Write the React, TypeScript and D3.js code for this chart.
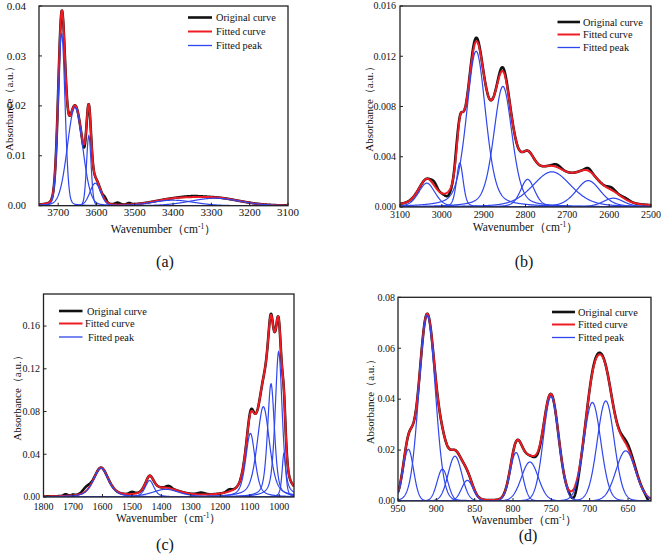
import React from "react";
import * as d3 from "d3";

const FONT = "'Liberation Serif', 'Times New Roman', Times, serif";
const BLACK = "#111111";
const RED = "#ee1c24";
const BLUE = "#2f45ee";

// ---------- Panel (a) ----------
const aXTicks = [3700, 3600, 3500, 3400, 3300, 3200, 3100];
const aYTicks = [0, 0.01, 0.02, 0.03, 0.04];
const aPeakCenters = [3691, 3656, 3620, 3603, 3400, 3290];
const aPeakHeights = [0.0345, 0.0197, 0.014, 0.0045, 0.0011, 0.0015];
const aPeakWidths = [21, 47, 14, 33, 130, 153];
const aOrigCenters = [3632, 3578, 3545, 3515, 3350];
const aOrigHeights = [-0.0006, 0.0005, 0.0004, 0.0003, 0.0002];
const aOrigWidths = [8, 10, 15, 12, 60];

// ---------- Panel (b) ----------
const bXTicks = [3100, 3000, 2900, 2800, 2700, 2600, 2500];
const bYTicks = [0, 0.004, 0.008, 0.012, 0.016];
const bPeakCenters = [3036, 2957, 2918, 2854, 2795, 2737, 2650, 2590];
const bPeakHeights = [0.0019, 0.0035, 0.0124, 0.0096, 0.0022, 0.0028, 0.0021, 0.0007];
const bPeakWidths = [47, 19, 54, 52, 40, 110, 70, 59];
const bOrigCenters = [3018, 2985, 2965, 2920, 2855, 2725, 2650, 2595, 2560];
const bOrigHeights = [0.0003, -0.0003, 0.0004, 0.0003, 0.0003, 0.0002, 0.0002, 0.0002, 0.0001];
const bOrigWidths = [15, 15, 10, 20, 20, 20, 15, 20, 20];

// ---------- Panel (c) ----------
const cXTicks = [1800, 1700, 1600, 1500, 1400, 1300, 1200, 1100, 1000];
const cYTicks = [0, 0.04, 0.08, 0.12, 0.16];
const cPeakCenters = [1605, 1440, 1385, 1098, 1054, 1028, 1002, 984];
const cPeakHeights = [0.027, 0.0155, 0.0072, 0.0596, 0.0845, 0.106, 0.136, 0.041];
const cPeakWidths = [60, 35, 110, 38, 50, 28, 28, 15];
const cOrigCenters = [1725, 1700, 1655, 1500, 1375, 1265, 1170, 1095, 1029];
const cOrigHeights = [0.0015, 0.0008, 0.004, 0.002, 0.002, 0.0018, 0.002, 0.002, 0.001];
const cOrigWidths = [15, 10, 30, 20, 20, 30, 20, 15, 8];

// ---------- Panel (d) ----------
const dXTicks = [950, 900, 850, 800, 750, 700, 650];
const dYTicks = [0, 0.02, 0.04, 0.06, 0.08];
const dPeakCenters = [936.5, 912, 892, 875.7, 859.6, 796, 778, 750.4, 696.5, 679, 653];
const dPeakHeights = [0.0203, 0.073, 0.0125, 0.0176, 0.0081, 0.019, 0.0153, 0.041, 0.0387, 0.0393, 0.0197];
const dPeakWidths = [16, 25, 16.5, 21, 17.5, 18, 26, 23.5, 26, 26, 30];
const dOrigCenters = [720, 690, 650, 621, 768];
const dOrigHeights = [-0.0035, 0.0007, 0.0012, -0.002, -0.0008];
const dOrigWidths = [10, 15, 20, 8, 10];

const legendLabels = ["Original curve", "Fitted curve", "Fitted peak"];

type Cfg = {
  id: string;
  label: string;
  xDomain: [number, number];
  yDomain: [number, number];
  left: number; right: number; top: number; bottom: number;
  xTicks: number[]; yTicks: number[]; yFmt: string;
  centers: number[]; heights: number[]; widths: number[];
  oc: number[]; oh: number[]; ow: number[];
  eta: number;
  tickFont: number;
  xLabelDy: number;
  yLabelRight: number;
  yTitleX: number;
  xTitleY: number;
  labelXY: [number, number];
  legend: { x1: number; x2: number; tx: number[]; ys: number[] };
};

const cfgs: Cfg[] = [
  {
    id: "a", label: "(a)", xDomain: [3750, 3100], yDomain: [0, 0.04],
    left: 39, right: 288, top: 6, bottom: 205.7,
    xTicks: aXTicks, yTicks: aYTicks, yFmt: ".2f",
    centers: aPeakCenters, heights: aPeakHeights, widths: aPeakWidths,
    oc: aOrigCenters, oh: aOrigHeights, ow: aOrigWidths, eta: 0.1,
    tickFont: 11, xLabelDy: 10.5, yLabelRight: 26, yTitleX: 13, xTitleY: 233,
    labelXY: [165, 267],
    legend: { x1: 188, x2: 212, tx: [216, 216, 216], ys: [17.5, 31.5, 45.5] },
  },
  {
    id: "b", label: "(b)", xDomain: [3100, 2500], yDomain: [0, 0.016],
    left: 400, right: 651, top: 6, bottom: 207,
    xTicks: bXTicks, yTicks: bYTicks, yFmt: ".3f",
    centers: bPeakCenters, heights: bPeakHeights, widths: bPeakWidths,
    oc: bOrigCenters, oh: bOrigHeights, ow: bOrigWidths, eta: 0.35,
    tickFont: 10, xLabelDy: 11, yLabelRight: 396, yTitleX: 373, xTitleY: 231,
    labelXY: [524, 267],
    legend: { x1: 557.5, x2: 580, tx: [583, 583, 583], ys: [22, 34.5, 47.5] },
  },
  {
    id: "c", label: "(c)", xDomain: [1800, 950], yDomain: [0, 0.19],
    left: 43.5, right: 294, top: 294, bottom: 497,
    xTicks: cXTicks, yTicks: cYTicks, yFmt: ".2f",
    centers: cPeakCenters, heights: cPeakHeights, widths: cPeakWidths,
    oc: cOrigCenters, oh: cOrigHeights, ow: cOrigWidths, eta: 0.5,
    tickFont: 10, xLabelDy: 12.5, yLabelRight: 40, yTitleX: 21, xTitleY: 522,
    labelXY: [165, 550],
    legend: { x1: 59, x2: 82.5, tx: [87, 85, 88], ys: [311, 323.5, 337] },
  },
  {
    id: "d", label: "(d)", xDomain: [950, 620], yDomain: [0, 0.08],
    left: 398, right: 651, top: 297.3, bottom: 501,
    xTicks: dXTicks, yTicks: dYTicks, yFmt: ".2f",
    centers: dPeakCenters, heights: dPeakHeights, widths: dPeakWidths,
    oc: dOrigCenters, oh: dOrigHeights, ow: dOrigWidths, eta: 0.05,
    tickFont: 10, xLabelDy: 11, yLabelRight: 395, yTitleX: 374, xTitleY: 524,
    labelXY: [528, 541],
    legend: { x1: 552, x2: 575, tx: [578, 578, 578], ys: [312, 324.5, 337.5] },
  },
];

function profile(v: number, c: number, h: number, w: number, eta: number) {
  const t = (v - c) / w;
  return h * ((1 - eta) * Math.exp(-4 * Math.LN2 * t * t) + eta / (1 + 4 * t * t));
}

function Panel({ cfg }: { cfg: Cfg }) {
  const x = d3.scaleLinear().domain(cfg.xDomain).range([cfg.left, cfg.right]);
  const y = d3.scaleLinear().domain(cfg.yDomain).range([cfg.bottom, cfg.top]);
  const n = 800;
  const grid = d3.range(n + 1).map((i) => cfg.xDomain[0] + ((cfg.xDomain[1] - cfg.xDomain[0]) * i) / n);
  const peakSeries = cfg.centers.map((c, i) =>
    grid.map((v) => [v, profile(v, c, cfg.heights[i], cfg.widths[i], cfg.eta)] as [number, number])
  );
  const fitted = grid.map((v, j) => [v, d3.sum(peakSeries, (s) => s[j][1])] as [number, number]);
  const original = fitted.map(([v, f]) => {
    const dev = d3.sum(cfg.oc, (c, i) => profile(v, c, cfg.oh[i], cfg.ow[i], 0));
    return [v, Math.max(0, f + dev)] as [number, number];
  });
  const line = d3.line<[number, number]>().x((d) => x(d[0])).y((d) => y(d[1])).curve(d3.curveLinear);
  const fmt = d3.format(cfg.yFmt);
  const clipId = "clip-" + cfg.id;
  const midY = (cfg.top + cfg.bottom) / 2;
  const midX = (cfg.left + cfg.right) / 2;
  const tickLen = 3;
  return (
    <g>
      <defs>
        <clipPath id={clipId}>
          <rect x={cfg.left} y={cfg.top} width={cfg.right - cfg.left} height={cfg.bottom - cfg.top} />
        </clipPath>
      </defs>
      <g clipPath={`url(#${clipId})`}>
        <path d={line(original) || ""} fill="none" stroke={BLACK} strokeWidth={2.6} strokeLinejoin="round" />
        <path d={line(fitted) || ""} fill="none" stroke={RED} strokeWidth={2} strokeLinejoin="round" />
        {peakSeries.map((s, i) => (
          <path key={i} d={line(s) || ""} fill="none" stroke={BLUE} strokeWidth={1.2} />
        ))}
      </g>
      <rect x={cfg.left} y={cfg.top} width={cfg.right - cfg.left} height={cfg.bottom - cfg.top}
        fill="none" stroke="#222" strokeWidth={1.3} />
      {cfg.xTicks.map((t) => (
        <g key={"x" + t}>
          <line x1={x(t)} x2={x(t)} y1={cfg.bottom} y2={cfg.bottom - tickLen} stroke="#222" strokeWidth={1} />
          <text x={x(t)} y={cfg.bottom + cfg.xLabelDy} textAnchor="middle" fontFamily={FONT} fontSize={cfg.tickFont} fill="#111">
            {t}
          </text>
        </g>
      ))}
      {cfg.yTicks.map((t) => (
        <g key={"y" + t}>
          <line x1={cfg.left} x2={cfg.left + tickLen} y1={y(t)} y2={y(t)} stroke="#222" strokeWidth={1} />
          <text x={cfg.yLabelRight} y={y(t) + cfg.tickFont * 0.33} textAnchor="end" fontFamily={FONT} fontSize={t === 0 ? cfg.tickFont - 0.5 : cfg.tickFont} fill="#111">
            {fmt(t)}
          </text>
        </g>
      ))}
      <text transform={`translate(${cfg.yTitleX},${midY}) rotate(-90)`} textAnchor="middle" fontFamily={FONT} fontSize={11} fill="#111">
        Absorbance（a.u.）
      </text>
      <text x={midX} y={cfg.xTitleY} textAnchor="middle" fontFamily={FONT} fontSize={11.5} fill="#111">
        <tspan>Wavenumber（cm</tspan>
        <tspan dy={-4} fontSize={7.5}>-1</tspan>
        <tspan dy={4}>）</tspan>
      </text>
      <text x={cfg.labelXY[0]} y={cfg.labelXY[1]} textAnchor="middle" fontFamily={FONT} fontSize={16} fill="#111">
        {cfg.label}
      </text>
      {legendLabels.map((lab, i) => (
        <g key={lab}>
          <line x1={cfg.legend.x1} x2={cfg.legend.x2} y1={cfg.legend.ys[i]} y2={cfg.legend.ys[i]}
            stroke={[BLACK, RED, BLUE][i]} strokeWidth={[2.6, 2, 1.3][i]} />
          <text x={cfg.legend.tx[i]} y={cfg.legend.ys[i] + 3.6} fontFamily={FONT} fontSize={10.3} fill="#111">
            {lab}
          </text>
        </g>
      ))}
    </g>
  );
}

export default function App() {
  return (
    <svg width={661} height={554} style={{ position: "absolute", left: 0, top: 0, background: "#fff" }}>
      <rect width={661} height={554} fill="#fff" />
      {cfgs.map((c) => (
        <Panel key={c.id} cfg={c} />
      ))}
    </svg>
  );
}
